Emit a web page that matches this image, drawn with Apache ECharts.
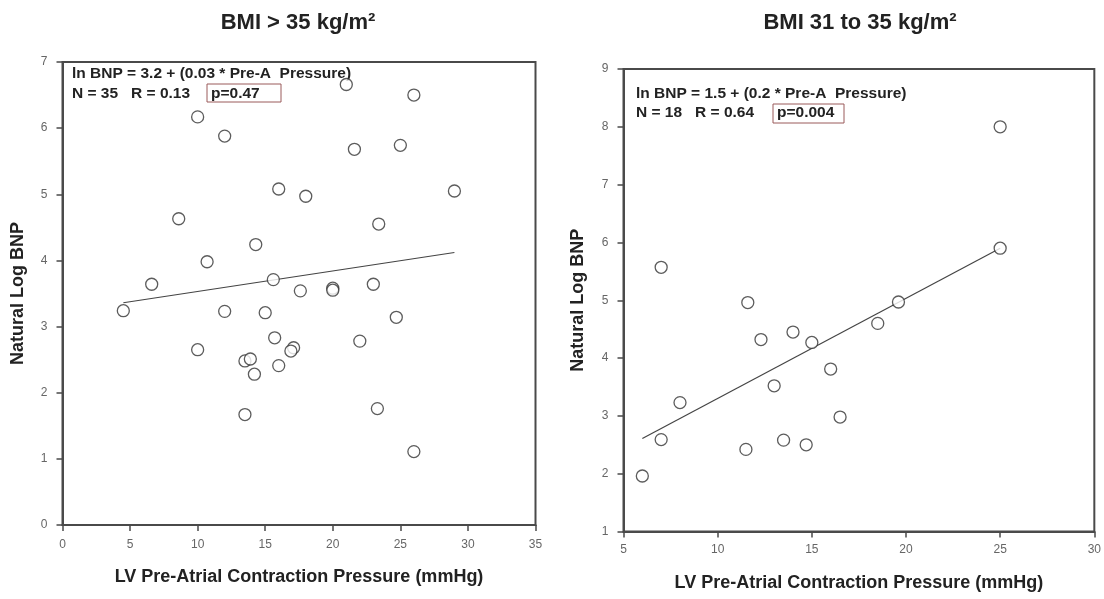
<!DOCTYPE html>
<html>
<head>
<meta charset="utf-8">
<script src="https://cdn.jsdelivr.net/npm/echarts@6/dist/echarts.min.js"></script>
<style>
  html, body { margin: 0; padding: 0; background: #fff; }
  #chart { width: 1104px; height: 599px; }
</style>
</head>
<body>
<div id="chart"></div>
<script>
// BMI > 35 kg/m2 group: pre-atrial pressure (mmHg) vs natural log BNP
const heavyX = [21.0, 26.0, 10.0, 12.0, 21.6, 25.0, 16.0, 18.0, 29.0, 8.6, 23.4, 14.3, 10.7, 6.6, 15.6, 17.6, 20.0, 23.0,
                4.5, 12.0, 15.0, 24.7, 15.7, 10.0, 17.1, 16.9, 22.0, 13.5, 13.9, 14.2, 16.0, 13.5, 23.3, 26.0, 20.0];
const heavyY = [6.66, 6.50, 6.17, 5.88, 5.68, 5.74, 5.08, 4.97, 5.05, 4.63, 4.55, 4.24, 3.98, 3.64, 3.71, 3.54, 3.58, 3.64,
                3.24, 3.23, 3.21, 3.14, 2.83, 2.65, 2.68, 2.63, 2.78, 2.48, 2.51, 2.28, 2.41, 1.67, 1.76, 1.11, 3.55];
// regression line end points for this group
const heavyFitX = [4.5, 29.0];
const heavyFitY = [3.36, 4.12];

// BMI 31 to 35 kg/m2 group
const midX = [25.0, 25.0, 7.0, 11.6, 19.6, 18.5, 12.3, 14.0, 15.0, 16.0, 13.0, 8.0, 16.5, 7.0, 13.5, 14.7, 11.5, 6.0];
const midY = [8.0, 5.9, 5.57, 4.96, 4.97, 4.60, 4.32, 4.45, 4.27, 3.81, 3.52, 3.23, 2.98, 2.59, 2.58, 2.50, 2.42, 1.96];
const midFitX = [6.0, 25.0];
const midFitY = [2.61, 5.9];

const panelTitles = ['BMI > 35 kg/m²', 'BMI 31 to 35 kg/m²'];
const xTitle = 'LV Pre-Atrial Contraction Pressure (mmHg)';
const yTitle = 'Natural Log BNP';
const eqText = ['ln BNP = 3.2 + (0.03 * Pre-A  Pressure)', 'ln BNP = 1.5 + (0.2 * Pre-A  Pressure)'];
const statText = ['N = 35   R = 0.13', 'N = 18   R = 0.64'];
const pText = ['p=0.47', 'p=0.004'];

const zip = (xs, ys) => xs.map((x, i) => [x, ys[i]]);

const font = '"Liberation Sans", Arial, sans-serif';
const axisColor = '#4a4a4a';

function xAxisCfg(grid, min, max, labelMargin) {
  return {
    type: 'value', gridIndex: grid, min: min, max: max, interval: 5,
    name: xTitle, nameLocation: 'middle', nameGap: 43,
    nameTextStyle: { fontFamily: font, fontWeight: 'bold', fontSize: 18, color: '#222' },
    axisLine: { lineStyle: { color: axisColor, width: 2 } },
    axisTick: { inside: false, length: 6, lineStyle: { color: axisColor, width: 1.5 } },
    axisLabel: { fontFamily: font, fontSize: 12, color: '#666', margin: labelMargin },
    splitLine: { show: false }
  };
}
function yAxisCfg(grid, min, max, gap) {
  return {
    type: 'value', gridIndex: grid, min: min, max: max, interval: 1,
    name: yTitle, nameLocation: 'middle', nameGap: gap, nameRotate: 90,
    nameTextStyle: { fontFamily: font, fontWeight: 'bold', fontSize: 18, color: '#222' },
    axisLine: { lineStyle: { color: axisColor, width: 2 } },
    axisTick: { inside: false, length: 6, lineStyle: { color: axisColor, width: 1.5 } },
    axisLabel: { fontFamily: font, fontSize: 12, color: '#666', margin: 15 },
    splitLine: { show: false }
  };
}

const dotStyle = { color: '#fff', borderColor: '#333', borderWidth: 1.3 };
function dots(idx, xs, ys) {
  return { type: 'scatter', xAxisIndex: idx, yAxisIndex: idx, symbol: 'circle', symbolSize: 12,
           itemStyle: dotStyle, data: zip(xs, ys), z: 3 };
}
function fit(idx, xs, ys) {
  return { type: 'line', xAxisIndex: idx, yAxisIndex: idx, showSymbol: false, symbol: 'none',
           lineStyle: { color: '#444', width: 1.2 }, data: zip(xs, ys), z: 2 };
}

// equation, statistics line and boxed p-value for one panel
function annot(x, y, box, i) {
  const t = { fontFamily: font, fontSize: 15.5, fontWeight: 'bold', fill: '#222', verticalAlign: 'middle', align: 'left' };
  return [
    { type: 'text', x: x, y: y, style: Object.assign({ text: eqText[i] }, t) },
    { type: 'text', x: x, y: y + 19.5, style: Object.assign({ text: statText[i] }, t) },
    { type: 'rect', shape: box, style: { fill: 'none', stroke: '#9a5a5a', lineWidth: 1 } },
    { type: 'text', x: box.x + 4, y: y + 19.5, style: Object.assign({ text: pText[i] }, t) }
  ];
}

function titleText(cx, i) {
  return { type: 'text', x: cx, y: 23,
           style: { text: panelTitles[i], fontFamily: font, fontSize: 22, fontWeight: 'bold', fill: '#222',
                    align: 'center', verticalAlign: 'middle' } };
}

const chart = echarts.init(document.getElementById('chart'));
chart.setOption({
  backgroundColor: '#fff',
  animation: false,
  grid: [
    { left: 62.5, top: 62, width: 473, height: 463, show: true, borderColor: axisColor, borderWidth: 2, backgroundColor: 'transparent' },
    { left: 623.5, top: 69, width: 472, height: 462.5, show: true, borderColor: axisColor, borderWidth: 2, backgroundColor: 'transparent' }
  ],
  xAxis: [xAxisCfg(0, 0, 35, 14), xAxisCfg(1, 5, 30, 12)],
  yAxis: [yAxisCfg(0, 0, 7, 35), yAxisCfg(1, 1, 9, 36)],
  series: [
    fit(0, heavyFitX, heavyFitY),
    dots(0, heavyX, heavyY),
    fit(1, midFitX, midFitY),
    dots(1, midX, midY)
  ],
  graphic: [titleText(298, 0), titleText(860, 1)]
    .concat(annot(72, 74, { x: 207, y: 84, width: 74, height: 18 }, 0))
    .concat(annot(636, 93.5, { x: 773, y: 104, width: 71, height: 19 }, 1))
});
</script>
</body>
</html>
